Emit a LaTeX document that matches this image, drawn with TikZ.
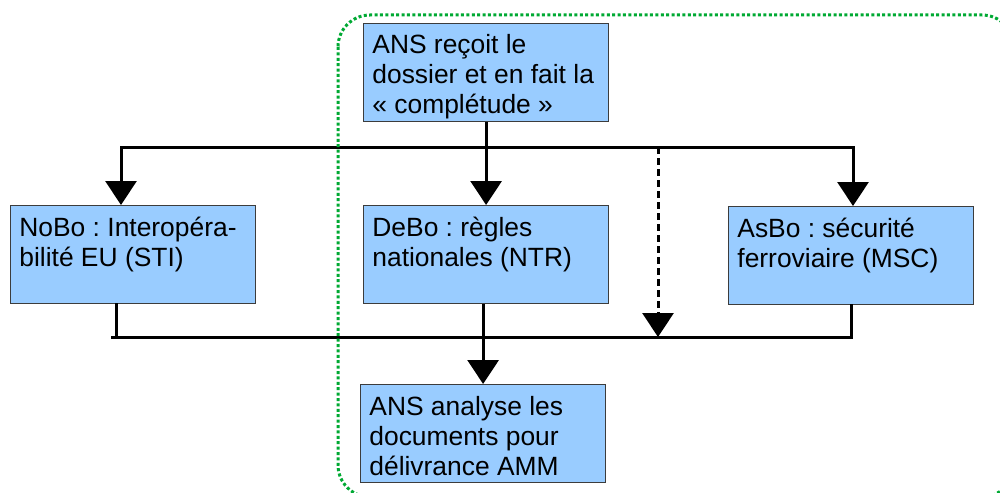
\documentclass[tikz,border=0pt]{standalone}
\usepackage{fontspec}
\setmainfont{Liberation Sans}
\usetikzlibrary{arrows.meta}
\definecolor{boxblue}{HTML}{99CCFF}
\definecolor{boxline}{HTML}{3C3C3C}
\definecolor{framegreen}{HTML}{00A933}
\frenchspacing
\begin{document}
\begin{tikzpicture}[x=0.5pt,y=-0.5pt,
  box/.style={draw=boxline,line width=0.6pt,fill=boxblue,minimum width=122.5pt,minimum height=49pt,inner sep=0pt,anchor=north west},
  txt/.style={inner sep=0pt,anchor=base west,font=\fontsize{13.2pt}{15pt}\selectfont},
  conn/.style={line width=1.5pt,line cap=rect},
  arr/.style={line width=1.5pt,-{Triangle[width=15.5pt,length=12pt]}},
  dasharr/.style={arr,dash pattern=on 3.5pt off 2pt},
  frame/.style={draw=framegreen,line width=1.5pt,dash pattern=on 1.5pt off 1.2pt,rounded corners=16pt}]
\useasboundingbox (0,0) rectangle (1000,492);
\clip (0,0) rectangle (1000,492);

% boxes
\node[box] (ansin) at (363,23) {};
\node[box] (nobo) at (10,205) {};
\node[box] (debo) at (363,205) {};
\node[box] (asbo) at (728,206) {};
\node[box] (ansout) at (360,384) {};

% texts
\path (ansin.north west) ++(9,31) node[txt] (ansin-t) {\parbox[t]{120pt}{\raggedright ANS reçoit le\\dossier et en fait la\\« complétude »}};
\path (nobo.north west) ++(9,31) node[txt] (nobo-t) {\parbox[t]{120pt}{\raggedright NoBo : Interopéra-\\bilité EU (STI)}};
\path (debo.north west) ++(9,31) node[txt] (debo-t) {\parbox[t]{120pt}{\raggedright DeBo : règles\\nationales (NTR)}};
\path (asbo.north west) ++(9,31) node[txt] (asbo-t) {\parbox[t]{120pt}{\raggedright AsBo : sécurité\\ferroviaire (MSC)}};
\path (ansout.north west) ++(9,31) node[txt] (ansout-t) {\parbox[t]{120pt}{\raggedright ANS analyse les\\documents pour\\délivrance AMM}};

% upper distribution
\coordinate (tl) at (121,147);
\coordinate (tr) at (853,147);
\draw[conn] (tl) -- (tr);
\draw[arr] (ansin.south) -- (debo.north);
\draw[arr] (tl) -- (tl |- nobo.north);
\draw[arr] (tr) -- (tr |- asbo.north);
\coordinate (dt) at (658,147);
\coordinate (db) at (658,337);
\draw[dasharr] (dt) -- (db);

% lower collection
\coordinate (bl) at (112,337);
\path (nobo.south west) ++(106,0) coordinate (nd);
\coordinate (br) at (asbo.south |- bl);
\draw[conn] (bl) -- (br);
\draw[conn] (nd) -- (nd |- bl);
\draw[conn] (asbo.south) -- (br);
\draw[arr] (debo.south -| ansout.north) -- (ansout.north);

% green frame
\draw[frame] (338,15) rectangle (1014,497);
\end{tikzpicture}
\end{document}
